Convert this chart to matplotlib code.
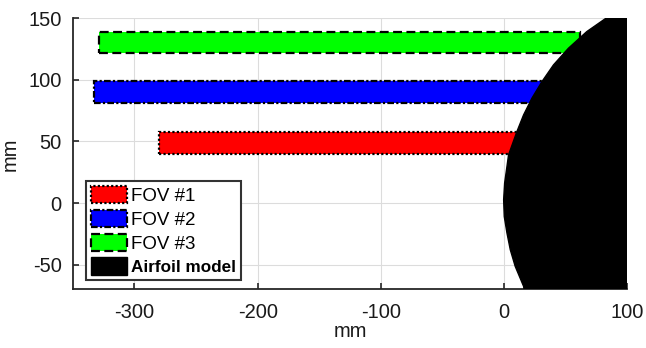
import numpy as np
import matplotlib
matplotlib.use("Agg")
import matplotlib.pyplot as plt

plt.rcParams['font.family'] = ['Liberation Sans', 'DejaVu Sans']
plt.rcParams['axes.unicode_minus'] = False

# field of view rectangles (mm)
fov_labels = ["FOV #1", "FOV #2", "FOV #3"]
fov_x0 = [-280, -333, -329]
fov_x1 = [60, 60, 62]
fov_y0 = [40, 81, 122]
fov_y1 = [58, 99, 139]
fov_colors = ["#ff0000", "#0000ff", "#00ff00"]
fov_styles = [(0, (1, 1)), (0, (3, 1, 1, 1)), (0, (4, 2))]

# airfoil leading edge outline (mm)
airfoil_x = [100, 83.4, 67.2, 52.3, 40.2, 30.8, 22.7, 15.9, 10.5, 3.7, 2.4,
             0.5, -0.3, 0.2, 2.4, 5.1, 9.1, 15.9, 16.5, 100]
airfoil_y = [151, 150.5, 139.2, 125.7, 112.2, 98.6, 85.2, 71.6, 58.1, 39.2, 29.7,
             16.2, 2.7, -10.9, -24.3, -37.9, -51.4, -67.6, -71, -71]

xlim = (-350, 100)
ylim = (-70, 150)
xticks = [-300, -200, -100, 0, 100]
yticks = [-50, 0, 50, 100, 150]

fig = plt.figure(figsize=(6.46, 3.48), dpi=100)
ax = fig.add_axes([0.1125, 0.1687, 0.8587, 0.7787])

for i in range(3):
    ax.fill([fov_x0[i], fov_x1[i], fov_x1[i], fov_x0[i]],
            [fov_y0[i], fov_y0[i], fov_y1[i], fov_y1[i]],
            facecolor=fov_colors[i], edgecolor="k", linewidth=1.6,
            linestyle=fov_styles[i], label=fov_labels[i], zorder=3)

ax.fill(airfoil_x, airfoil_y, facecolor="k", edgecolor="k", linewidth=1,
        label="Airfoil model", zorder=4)

ax.set_xlim(xlim)
ax.set_ylim(ylim)
ax.set_xticks(xticks)
ax.set_yticks(yticks)
ax.set_aspect("equal")
ax.grid(True, color="#dcdcdc", linewidth=0.8, zorder=0)
ax.set_axisbelow(True)
for s in ["top", "right"]:
    ax.spines[s].set_visible(False)
for s in ["left", "bottom"]:
    ax.spines[s].set_color("#262626")
    ax.spines[s].set_linewidth(1.3)
ax.tick_params(direction="in", length=4, width=1.2, color="#262626",
               labelsize=14.5, labelcolor="#1a1a1a")
ax.tick_params(axis="x", pad=10)
ax.tick_params(axis="y", pad=8)
ax.set_xlabel("mm", fontsize=14.5, color="#1a1a1a", labelpad=0)
ax.set_ylabel("mm", fontsize=14.5, color="#1a1a1a", labelpad=6)

leg = ax.legend(loc="lower left", bbox_to_anchor=(0.024, 0.034), borderaxespad=0,
                fontsize=13.5, handlelength=1.95, handleheight=1.05, labelspacing=0.25,
                handletextpad=0.18, borderpad=0.25, fancybox=False, framealpha=1,
                edgecolor="#333333")
leg.get_frame().set_linewidth(1.5)
leg.set_zorder(6)
leg.get_texts()[3].set_fontweight("bold")
leg.get_texts()[3].set_fontsize(12.3)

fig.savefig("out.png", dpi=100)
